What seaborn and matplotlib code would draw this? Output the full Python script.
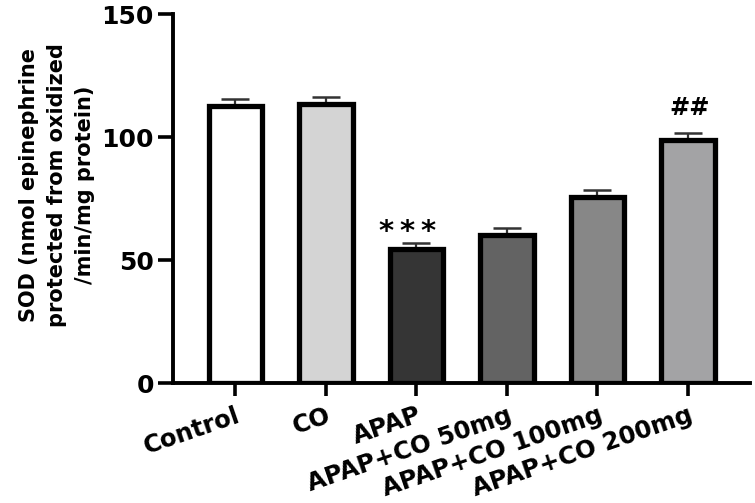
import matplotlib
matplotlib.use("Agg")
import matplotlib.pyplot as plt
import seaborn as sns
import pandas as pd
import numpy as np

# values
groups = ["Control", "CO", "APAP", "APAP+CO 50mg", "APAP+CO 100mg", "APAP+CO 200mg"]
sod_mean = [112.6, 113.4, 54.4, 60.2, 75.8, 99.0]
sod_sem = [2.7, 3.0, 2.6, 2.7, 2.9, 2.7]
bar_colors = ["#ffffff", "#d4d4d4", "#353535", "#636363", "#878787", "#a2a2a6"]
marks = {"APAP": "*\u2009*\u2009*", "APAP+CO 200mg": "##"}

sns.set_style("ticks", {"axes.edgecolor": "black", "text.color": "black",
                        "axes.labelcolor": "black", "xtick.color": "black", "ytick.color": "black"})
plt.rcParams["font.family"] = ["DejaVu Sans"]
plt.rcParams["font.weight"] = "bold"

df = pd.DataFrame({"group": groups, "sod": sod_mean})

fig = plt.figure(figsize=(7.55, 5.03), dpi=100)
ax = fig.add_axes([0.2291, 0.238, 0.7643, 0.734])

sns.barplot(data=df, x="group", y="sod", hue="group", order=groups, hue_order=groups,
            palette=bar_colors, edgecolor="black", linewidth=3.8, width=0.59,
            legend=False, errorbar=None, ax=ax)

# one sided error bars (upwards only)
ax.errorbar(np.arange(len(groups)), sod_mean, yerr=[np.zeros(len(groups)), sod_sem],
            fmt="none", ecolor="#333333", elinewidth=1.6, capsize=10.4, capthick=1.8, zorder=0.5)

for i, g in enumerate(groups):
    if g in marks:
        top = sod_mean[i] + sod_sem[i]
        if g == "APAP":
            ax.text(i - 0.1, top + 1.4, marks[g], ha="center", va="baseline",
                    fontsize=21, fontweight="bold")
        else:
            ax.text(i + 0.02, top + 7.3, marks[g], ha="center", va="baseline",
                    fontsize=17.5, fontweight="bold")

ax.set_xlim(-0.69, 5.685)
ax.set_ylim(0, 150)
ax.set_yticks([0, 50, 100, 150])
sns.despine(ax=ax)
for s in ["left", "bottom"]:
    ax.spines[s].set_linewidth(2.8)

ax.tick_params(axis="y", length=10.8, width=2.6, labelsize=18, pad=3)
ax.tick_params(axis="x", length=9.4, width=2.6, labelsize=17.5, pad=5)
ax.set_xticks(range(len(groups)))
ax.set_xticklabels(groups, rotation=19, ha="right", rotation_mode="anchor", fontweight="bold")
plt.setp(ax.get_yticklabels(), fontweight="bold")

ax.set_xlabel("")
ax.set_ylabel("SOD (nmol epinephrine\nprotected from oxidized\n/min/mg protein)",
              fontsize=15, fontweight="bold", linespacing=1.5)
ax.yaxis.label.set_verticalalignment("center")
ax.yaxis.set_label_coords(-0.201, 0.537)

fig.savefig("out.png", dpi=100)
